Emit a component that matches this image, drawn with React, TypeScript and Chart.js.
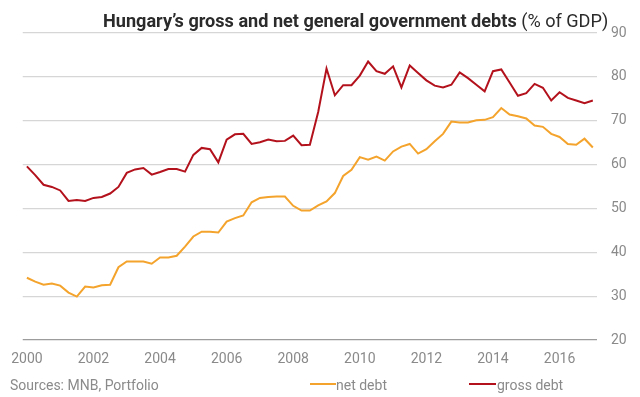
import React, { useEffect, useLayoutEffect, useRef } from "react";
import { Chart, registerables } from "chart.js";

Chart.register(...registerables);

// Quarterly data, 2000 Q1 – 2017 Q1 (% of GDP)
const START_YEAR = 2000;
const QUARTER_COUNT = 69;
const TICK_YEARS = ["2000", "2002", "2004", "2006", "2008", "2010", "2012", "2014", "2016"];

const NET_DEBT = [
  34.2, 33.3, 32.6, 32.9, 32.4, 30.8, 29.9, 32.2, 32.0, 32.5, 32.6, 36.6,
  37.9, 37.9, 37.9, 37.4, 38.8, 38.8, 39.2, 41.3, 43.6, 44.7, 44.7, 44.5,
  47.0, 47.8, 48.4, 51.4, 52.4, 52.6, 52.7, 52.7, 50.6, 49.5, 49.5, 50.7,
  51.6, 53.5, 57.4, 58.8, 61.7, 61.1, 61.8, 60.9, 63.0, 64.1, 64.7, 62.5,
  63.5, 65.3, 67.0, 69.8, 69.6, 69.6, 70.1, 70.2, 70.8, 72.9, 71.4, 71.0,
  70.5, 68.9, 68.6, 67.0, 66.3, 64.7, 64.5, 65.9, 63.9,
];

const GROSS_DEBT = [
  59.6, 57.6, 55.4, 54.9, 54.1, 51.7, 51.9, 51.7, 52.4, 52.6, 53.4, 54.9,
  58.1, 58.9, 59.2, 57.7, 58.3, 59.0, 59.0, 58.4, 62.2, 63.8, 63.5, 60.5,
  65.7, 66.9, 67.0, 64.7, 65.1, 65.7, 65.3, 65.4, 66.6, 64.4, 64.5, 72.0,
  81.9, 75.8, 78.1, 78.1, 80.3, 83.5, 81.3, 80.7, 82.4, 77.6, 82.6, 80.9,
  79.2, 78.0, 77.6, 78.2, 81.0, 79.7, 78.2, 76.7, 81.3, 81.7, 78.7, 75.7,
  76.3, 78.4, 77.5, 74.6, 76.5, 75.2, 74.6, 74.0, 74.6,
];

const QUARTERS: string[] = [];
for (let i = 0; i < QUARTER_COUNT; i++) {
  QUARTERS.push(`${START_YEAR + Math.floor(i / 4)} Q${(i % 4) + 1}`);
}

const NET_COLOR = "#f4a42c";
const GROSS_COLOR = "#b3121c";
const TEXT_GRAY = "#8a8a8a";
const FONT = "Roboto, 'Noto Sans', sans-serif";

export default function App() {
  const canvasRef = useRef<HTMLCanvasElement | null>(null);
  const titleRef = useRef<HTMLDivElement | null>(null);

  useLayoutEffect(() => {
    const el = titleRef.current;
    if (el) {
      const w = el.offsetWidth;
      if (w > 0) el.style.transform = `scaleX(${505 / w})`;
    }
  }, []);

  useEffect(() => {
    if (!canvasRef.current) return;
    const chart = new Chart(canvasRef.current, {
      type: "line",
      data: {
        labels: QUARTERS,
        datasets: [
          {
            label: "net debt",
            data: NET_DEBT,
            borderColor: NET_COLOR,
            backgroundColor: NET_COLOR,
            borderWidth: 2,
            pointRadius: 0,
            tension: 0,
          },
          {
            label: "gross debt",
            data: GROSS_DEBT,
            borderColor: GROSS_COLOR,
            backgroundColor: GROSS_COLOR,
            borderWidth: 2,
            pointRadius: 0,
            tension: 0,
          },
        ],
      },
      options: {
        responsive: false,
        animation: false,
        events: [],
        layout: { padding: { left: 22, top: 33, right: 3, bottom: 25 } },
        plugins: {
          legend: { display: false },
          title: { display: false },
          tooltip: { enabled: false },
        },
        scales: {
          x: {
            type: "category",
            offset: true,
            grid: { display: false, drawTicks: false },
            border: { display: false },
            ticks: {
              autoSkip: false,
              maxRotation: 0,
              minRotation: 0,
              padding: 11,
              color: TEXT_GRAY,
              font: { family: FONT, size: 14 },
              callback: (_v: any, i: number) => {
                const lbl = QUARTERS[i];
                if (!lbl || !lbl.endsWith("Q1")) return "";
                const yr = lbl.slice(0, 4);
                return TICK_YEARS.includes(yr) ? yr : "";
              },
            },
            afterFit: (s: any) => {
              s.height = 32;
            },
          },
          y: {
            position: "right",
            min: 20,
            max: 90,
            ticks: {
              stepSize: 10,
              padding: 14,
              color: TEXT_GRAY,
              font: { family: FONT, size: 14 },
            },
            grid: {
              drawTicks: false,
              color: (ctx: any) => (ctx.tick && ctx.tick.value === 20 ? "#9c9c9c" : "#d6d6d6"),
              lineWidth: 1.2,
            },
            border: { display: false },
            afterFit: (s: any) => {
              s.width = 40;
            },
          },
        },
      },
    });
    return () => chart.destroy();
  }, []);

  const textStyle: React.CSSProperties = {
    position: "absolute",
    fontFamily: FONT,
    fontSize: 14,
    lineHeight: "14px",
    color: TEXT_GRAY,
    whiteSpace: "nowrap",
    top: 378,
  };

  return (
    <div
      style={{
        position: "fixed",
        left: 0,
        top: 0,
        width: 640,
        height: 397,
        background: "#ffffff",
        overflow: "hidden",
      }}
    >
      <canvas
        ref={canvasRef}
        width={640}
        height={397}
        style={{ position: "absolute", left: 0, top: 0, display: "block" }}
      />
      <div
        ref={titleRef}
        style={{
          position: "absolute",
          right: 32,
          top: 11,
          fontFamily: FONT,
          fontSize: 19,
          lineHeight: "19px",
          color: "#2b2b2b",
          whiteSpace: "nowrap",
          transformOrigin: "right center",
        }}
      >
        <span style={{ fontWeight: 700 }}>Hungary’s gross and net general government debts</span>
        <span style={{ fontWeight: 400 }}> (% of GDP)</span>
      </div>
      <div style={{ ...textStyle, left: 10 }}>Sources: MNB, Portfolio</div>
      <div
        style={{ position: "absolute", left: 310, top: 383, width: 26, height: 2, background: NET_COLOR }}
      />
      <div style={{ ...textStyle, left: 336 }}>net debt</div>
      <div
        style={{ position: "absolute", left: 469, top: 383, width: 27, height: 2, background: GROSS_COLOR }}
      />
      <div style={{ ...textStyle, left: 497 }}>gross debt</div>
    </div>
  );
}
